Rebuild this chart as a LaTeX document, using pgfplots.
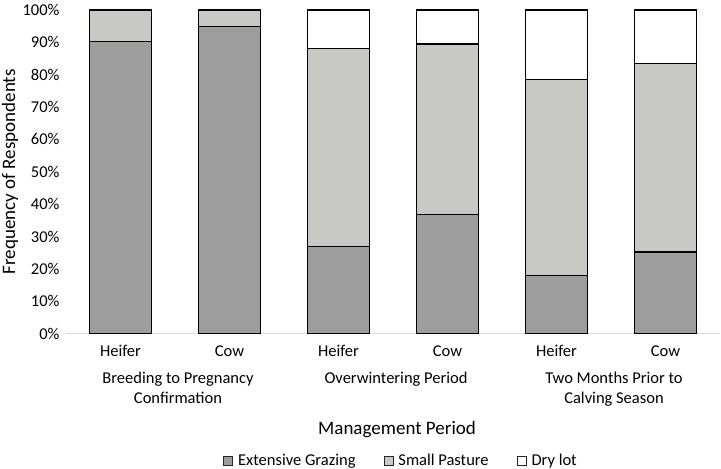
\documentclass[border=0pt]{standalone}
\usepackage{pgfplots}
\pgfplotsset{compat=1.18}
\usepackage{pgfplotstable}
\usepackage{fontspec}
\setmainfont{Carlito}
\definecolor{cExt}{RGB}{157,157,157}
\definecolor{cSmall}{RGB}{200,201,196}
\definecolor{cAxis}{RGB}{217,217,217}

\pgfplotstableread{
x ext small dry
0 90.4 9.6 0
1 95.0 5.0 0
2 27.0 61.1 11.9
3 36.7 52.8 10.5
4 18.0 60.6 21.4
5 25.2 58.2 16.6
}\datatable

\begin{document}
\begin{tikzpicture}
\useasboundingbox (-66pt,-135.5pt) rectangle (655pt,333.5pt);
\begin{axis}[
  at={(0,0)}, anchor=south west,
  scale only axis, width=654pt, height=323.5pt,
  ybar stacked, bar width=62pt,
  xmin=-0.5, xmax=5.5, ymin=0, ymax=100,
  xtick={0,1,2,3,4,5},
  xticklabels={Heifer,Cow,Heifer,Cow,Heifer,Cow},
  ytick={0,10,...,100},
  yticklabel={\pgfmathprintnumber{\tick}\%},
  /pgf/number format/assume math mode=true,
  axis x line*=bottom, axis y line*=left,
  x axis line style={draw=cAxis, line width=1pt},
  y axis line style={draw=none},
  major tick length=0pt,
  tick style={draw=none},
  every tick label/.append style={font=\fontsize{16.5}{19}\selectfont},
  xticklabel style={anchor=base, yshift=-23pt},
  yticklabel style={xshift=-3pt},
  xlabel={Management Period},
  xlabel style={at={(axis description cs:0.5,0)}, anchor=base, yshift=-100.5pt, xshift=4pt, font=\fontsize{19}{22}\selectfont},
  legend columns=-1,
  legend style={at={(axis description cs:0.5,0)}, anchor=center, yshift=-127pt, xshift=8pt, draw=none, fill=none,
    font=\fontsize{16.5}{19}\selectfont,
    /tikz/every odd column/.append style={column sep=3pt},
    /tikz/every even column/.append style={column sep=26pt}},
  legend image code/.code={\draw[#1, draw=black!85, line width=0.9pt] (0pt,-4.5pt) rectangle (9pt,4.5pt);},
  clip=false,
  every axis plot/.append style={draw=black, line width=1.1pt},
]
\addplot[fill=cExt] table[x=x,y=ext] {\datatable};
\addplot[fill=cSmall] table[x=x,y=small] {\datatable};
\addplot[fill=white] table[x=x,y=dry] {\datatable};
\legend{Extensive Grazing, Small Pasture, Dry lot}
\tikzset{grp/.style={anchor=base, font=\fontsize{16.5}{19}\selectfont}}
\node[grp] at ([xshift=3pt,yshift=-49.5pt]axis cs:0.5,0) {Breeding to Pregnancy};
\node[grp] at ([xshift=3pt,yshift=-69.5pt]axis cs:0.5,0) {Confirmation};
\node[grp] at ([xshift=3pt,yshift=-49.5pt]axis cs:2.5,0) {Overwintering Period};
\node[grp] at ([xshift=3pt,yshift=-49.5pt]axis cs:4.5,0) {Two Months Prior to};
\node[grp] at ([xshift=3pt,yshift=-69.5pt]axis cs:4.5,0) {Calving Season};
\node[rotate=90, anchor=center, font=\fontsize{19}{22}\selectfont] at ([xshift=-56pt]axis description cs:0,0.5) {Frequency of Respondents};
\end{axis}
\end{tikzpicture}
\end{document}
